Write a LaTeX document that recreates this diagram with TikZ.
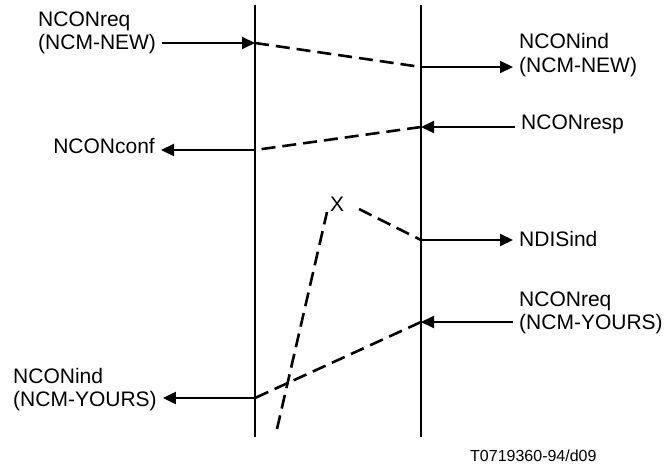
\documentclass[tikz,border=0pt]{standalone}
\usepackage{fontspec}
\setmainfont{Liberation Sans}
\usetikzlibrary{arrows.meta}
\begin{document}
\begin{tikzpicture}[x=1pt,y=-1pt,
  lbl/.style={font=\fontsize{21}{23.5}\selectfont, inner xsep=6pt, inner ysep=0pt, align=left},
  life/.style={line width=2pt},
  msg/.style={line width=2pt, -{Triangle[length=13pt,width=12pt]}},
  flow/.style={line width=2.6pt, dash pattern=on 14pt off 7pt},
  foot/.style={font=\fontsize{16}{19}\selectfont, inner sep=0pt}]
\useasboundingbox (0,0) rectangle (666,470);
% lifelines
\coordinate (Lt) at (255,5);
\coordinate (Lb) at (255,437);
\coordinate (Rt) at (421,5);
\coordinate (Rb) at (421,437);
\draw[life] (Lt) -- (Lb);
\draw[life] (Rt) -- (Rb);
% event points
\coordinate (pA) at (255,43);
\coordinate (pB) at (421,67);
\coordinate (pC) at (421,127);
\coordinate (pD) at (255,150);
\coordinate (pE) at (421,240);
\coordinate (pF) at (421,322);
\coordinate (pG) at (255,398);
\coordinate (xs) at (359,209);
\coordinate (ls) at (277,429);
\coordinate (le) at (327,212);
% labels
\node[lbl, anchor=base west] (t1) at (32,50) {NCONreq\\(NCM-NEW)};
\node[lbl, anchor=base west] (t2) at (513,72.5) {NCONind\\(NCM-NEW)};
\node[lbl, anchor=base west] (t3) at (515,130) {NCONresp};
\node[lbl, anchor=base east] (t4) at (161,154) {NCONconf};
\node[lbl, anchor=base west] (t5) at (513,247) {NDISind};
\node[lbl, anchor=base west] (t6) at (513,329.5) {NCONreq\\(NCM-YOURS)};
\node[lbl, anchor=base west] (t7) at (7,406.5) {NCONind\\(NCM-YOURS)};
\node[lbl, inner xsep=0pt, anchor=base] (x) at (337,212) {X};
\node[foot, anchor=base west] (ft) at (470,461) {T0719360-94/d09};
% messages
\draw[msg] (t1.east |- pA) -- (pA);
\draw[msg] (pB) -- (t2.west |- pB);
\draw[msg] (t3.west |- pC) -- (pC);
\draw[msg] (pD) -- (t4.east |- pD);
\draw[msg] (pE) -- (t5.west |- pE);
\draw[msg] (t6.west |- pF) -- (pF);
\draw[msg] (pG) -- (t7.east |- pG);
% internal flows
\draw[flow] (pA) -- (pB);
\draw[flow] (pC) -- (pD);
\draw[flow] (xs) -- (pE);
\draw[flow] (ls) -- (le);
\draw[flow] (pF) -- (pG);
\end{tikzpicture}
\end{document}
